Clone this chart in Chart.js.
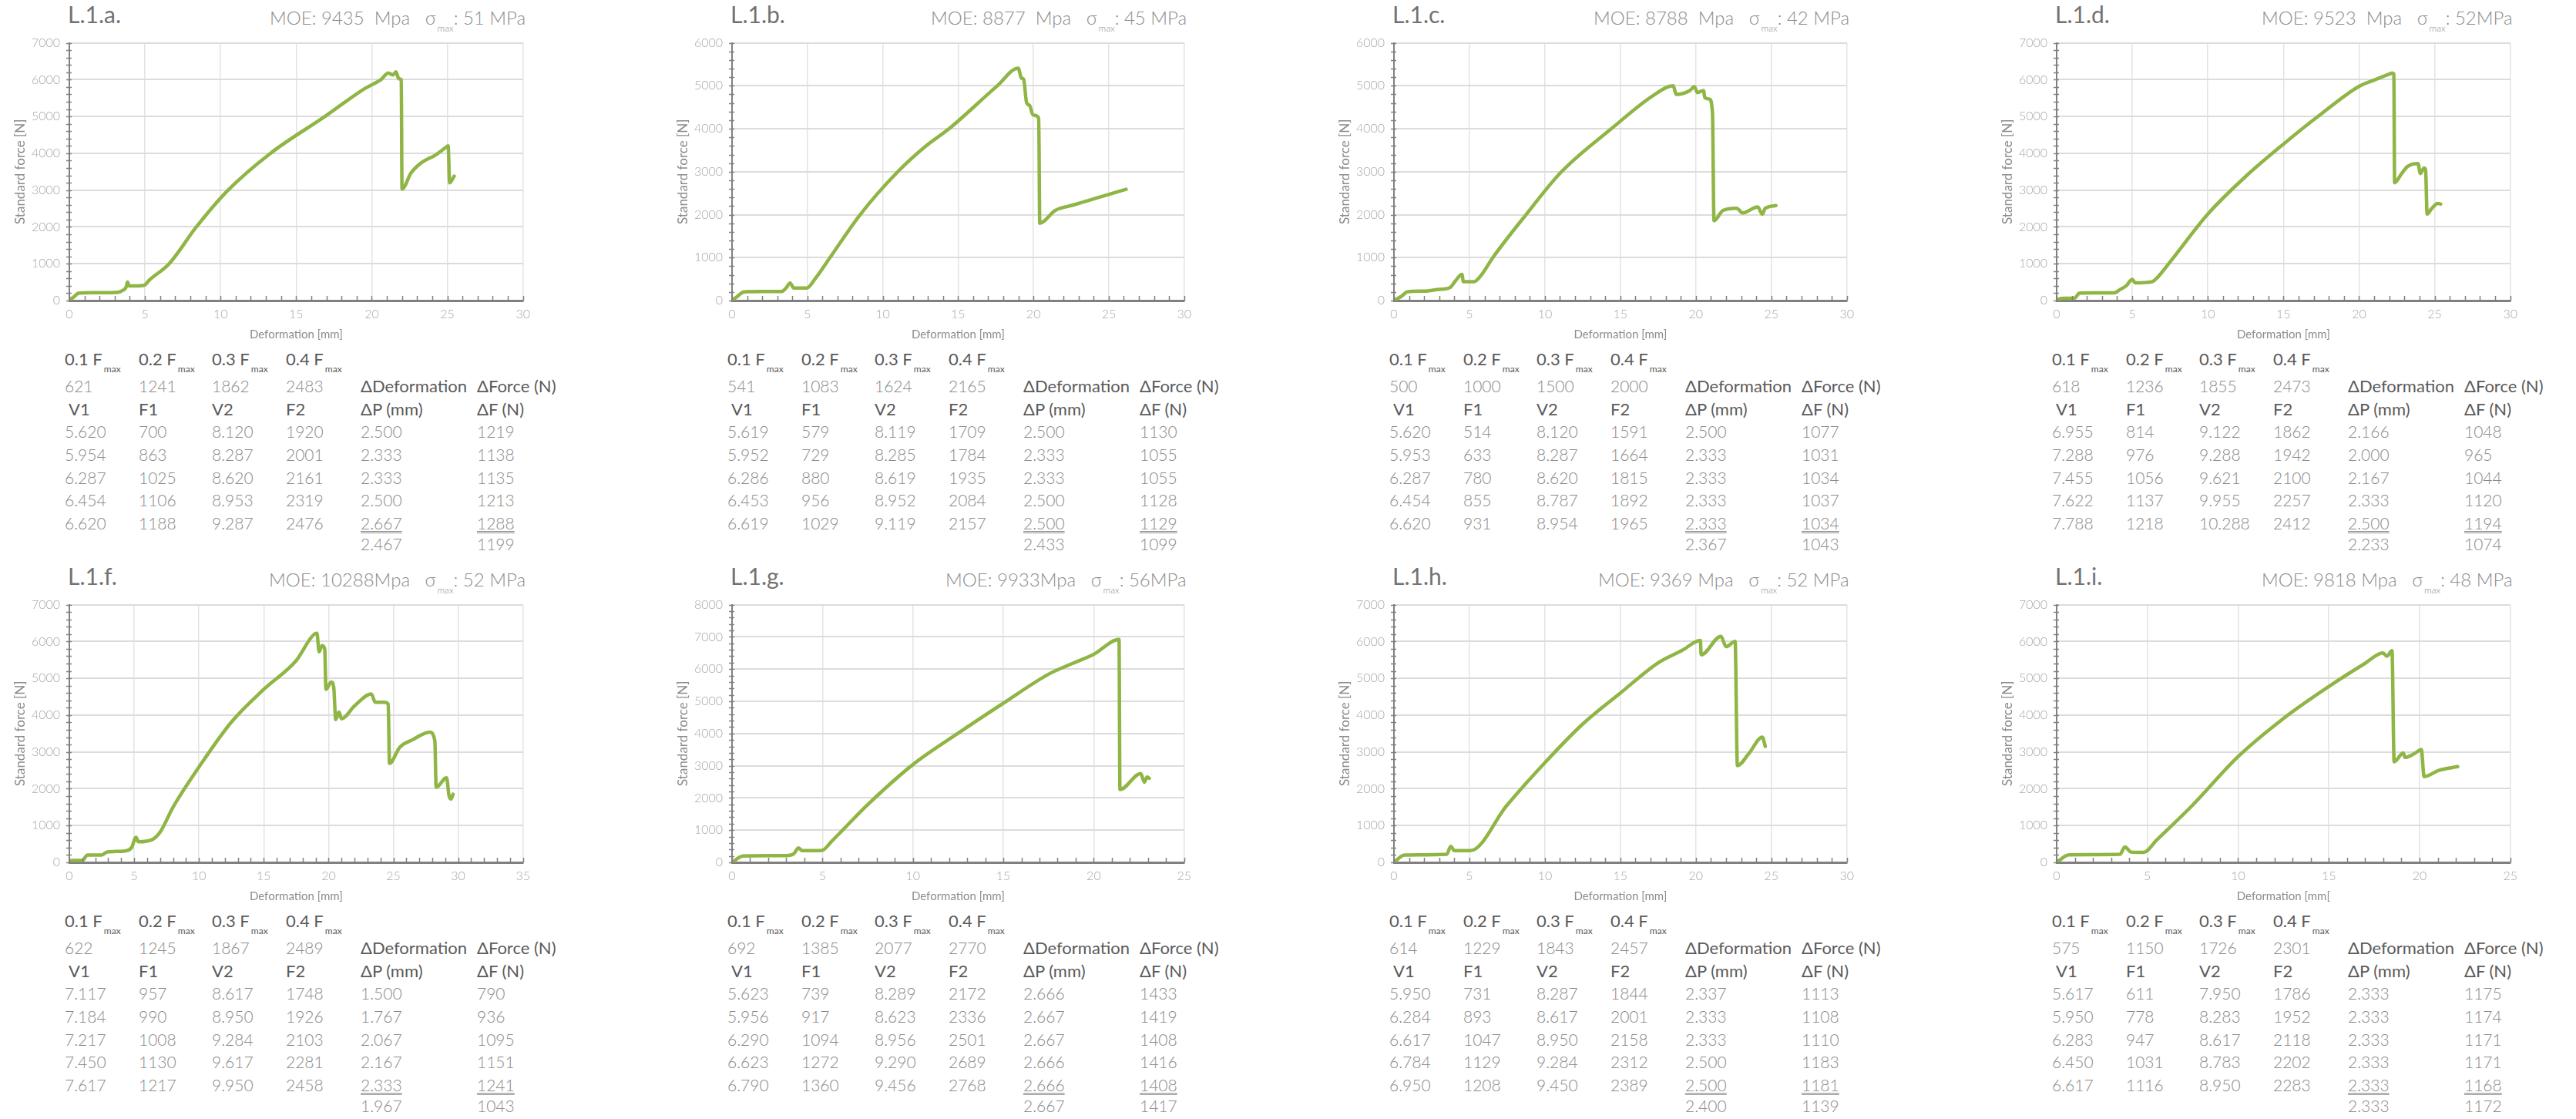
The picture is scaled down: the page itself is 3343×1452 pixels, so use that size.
<!DOCTYPE html>
<html>
<head>
<meta charset="utf-8">
<script src="https://cdn.jsdelivr.net/npm/chart.js@4.4.0/dist/chart.umd.min.js"></script>
<style>
    body { margin: 0; background: #fff; }
    #page { position: relative; width: 3343px; height: 1452px; overflow: hidden; font-family: Lato, 'Open Sans', sans-serif; }
    .txt { position: absolute; white-space: nowrap; line-height: 26px; }
    .title { font-size: 30px; color: #727272; line-height: 36px; }
    .moe { font-size: 24px; color: #8c8c8c; font-weight: 300; line-height: 30px; }
    .head { font-size: 22px; color: #5a5a5a; }
    .val { font-size: 21px; color: #8a8a8a; font-weight: 300; }
    .sub { font-size: 12px; position: relative; top: 9px; margin-left: 2px; }
    .dbl { text-decoration-line: underline; text-decoration-style: double; text-decoration-color: #8a8a8a;
           text-decoration-thickness: 1px; text-underline-offset: 2px; }
    .chartbox { position: absolute; }
</style>
</head>
<body>
<div id="page"></div>
<script>
// ---- curve data: deformation [mm] / standard force [N] ----
const a_def = [0, 0.3, 0.6, 1.5, 2.5, 3.2, 3.5, 3.75, 3.85, 3.95, 4.4, 4.95, 5.3, 6.6, 8.4, 10.5, 13.3, 16.9, 19.5, 20.6, 21.1, 21.4, 21.6, 21.75, 21.85, 21.95, 22.0, 22.6, 23.3, 24.2, 24.9, 25.05, 25.15, 25.45];
const a_force = [0, 100, 200, 215, 215, 225, 270, 360, 500, 400, 400, 415, 560, 1000, 2000, 3000, 4000, 5000, 5750, 6000, 6180, 6130, 6210, 6050, 6020, 6000, 3030, 3470, 3750, 3950, 4160, 4200, 3200, 3380];

const b_def = [0, 0.3, 0.8, 2.0, 3.3, 3.6, 3.85, 4.1, 4.95, 5.5, 6.5, 8.5, 11.0, 12.8, 14.4, 17.6, 18.99, 19.2, 19.35, 19.55, 19.75, 19.97, 20.35, 20.42, 21.45, 22.6, 24.2, 26.15];
const b_force = [0, 80, 204, 210, 210, 300, 410, 290, 290, 500, 1000, 2000, 3000, 3580, 4000, 5000, 5410, 5180, 5150, 4600, 4540, 4320, 4250, 1800, 2100, 2220, 2390, 2590];

const c_def = [0, 0.5, 0.9, 2.0, 3.0, 3.7, 4.1, 4.5, 4.6, 5.3, 5.8, 6.55, 8.75, 11.1, 14.4, 17.2, 18.5, 18.7, 19.6, 19.9, 20.1, 20.5, 20.6, 20.9, 21.1, 21.2, 21.8, 22.7, 23.1, 24.1, 24.4, 24.6, 25.3];
const c_force = [0, 100, 204, 220, 260, 300, 470, 610, 440, 440, 600, 1000, 2000, 3000, 4000, 4780, 5000, 4800, 4890, 4980, 4840, 4890, 4720, 4690, 4370, 1860, 2100, 2150, 2040, 2180, 2010, 2150, 2210];

const d_def = [0, 0.3, 1.2, 1.5, 2.5, 3.8, 4.2, 4.6, 5.0, 5.2, 6.3, 6.6, 7.5, 10, 12.5, 15, 17.5, 20, 21, 22, 22.2, 22.3, 22.35, 22.8, 23.2, 23.9, 24.05, 24.3, 24.4, 24.5, 24.8, 25.2, 25.4];
const d_force = [0, 60, 70, 200, 210, 210, 300, 400, 575, 480, 510, 600, 1050, 2350, 3370, 4250, 5070, 5820, 5990, 6150, 6180, 6150, 3200, 3440, 3640, 3720, 3450, 3600, 3550, 2350, 2500, 2640, 2620];

const f_def = [0, 0.2, 1.0, 1.4, 2.5, 2.9, 4.3, 4.8, 5.14, 5.33, 6.4, 7.0, 8.0, 10, 12.5, 15, 17.5, 18.95, 19.1, 19.27, 19.5, 19.7, 19.8, 20.2, 20.4, 20.55, 20.8, 21.0, 22.0, 23.3, 23.6, 24.3, 24.6, 24.7, 25.5, 26.5, 27.8, 28.2, 28.3, 28.97, 29.1, 29.3, 29.45, 29.6];
const f_force = [0, 50, 50, 200, 200, 280, 310, 400, 680, 560, 620, 820, 1500, 2590, 3810, 4700, 5480, 6210, 6220, 5720, 5890, 5800, 4700, 4900, 4750, 3880, 4080, 3900, 4250, 4575, 4350, 4350, 4300, 2690, 3130, 3335, 3540, 3300, 2040, 2280, 2300, 1800, 1720, 1850];

const g_def = [0, 0.6, 3.0, 3.4, 3.68, 3.87, 4.97, 5.5, 7.5, 10.0, 12.5, 15, 17.5, 18.55, 20, 21.4, 21.45, 22.6, 22.8, 22.95, 23.07];
const g_force = [0, 195, 210, 260, 450, 366, 373, 650, 1790, 3035, 4008, 4940, 5840, 6110, 6460, 6920, 2260, 2760, 2490, 2650, 2610];

const h_def = [0, 0.7, 3.5, 3.76, 4.0, 5.07, 7.47, 9.98, 12.49, 15.0, 17.5, 19.1, 20.3, 20.35, 21.66, 22.0, 22.6, 22.75, 23.5, 24.4, 24.6];
const h_force = [0, 200, 220, 435, 320, 320, 1543, 2700, 3752, 4600, 5420, 5760, 6030, 5640, 6140, 5860, 6000, 2630, 2950, 3400, 3150];

const i_def = [0, 0.68, 3.49, 3.76, 4.1, 4.8, 5.5, 7.47, 9.96, 12.45, 14.95, 16.98, 17.98, 18.2, 18.48, 18.6, 19.1, 19.2, 19.7, 20.1, 20.25, 21.06, 22.1];
const i_force = [0, 204, 218, 421, 280, 270, 600, 1543, 2855, 3890, 4760, 5400, 5690, 5600, 5750, 2730, 2970, 2850, 2950, 3060, 2330, 2500, 2600];

// ---- table data ----
const fmaxLabels = ['0.1 F', '0.2 F', '0.3 F', '0.4 F'];
const colLabels = ['V1', 'F1', 'V2', 'F2'];

const a_fmax = ['621', '1241', '1862', '2483'];
const a_v1 = ['5.620', '5.954', '6.287', '6.454', '6.620'];
const a_f1 = ['700', '863', '1025', '1106', '1188'];
const a_v2 = ['8.120', '8.287', '8.620', '8.953', '9.287'];
const a_f2 = ['1920', '2001', '2161', '2319', '2476'];
const a_dp = ['2.500', '2.333', '2.333', '2.500', '2.667', '2.467'];
const a_df = ['1219', '1138', '1135', '1213', '1288', '1199'];

const b_fmax = ['541', '1083', '1624', '2165'];
const b_v1 = ['5.619', '5.952', '6.286', '6.453', '6.619'];
const b_f1 = ['579', '729', '880', '956', '1029'];
const b_v2 = ['8.119', '8.285', '8.619', '8.952', '9.119'];
const b_f2 = ['1709', '1784', '1935', '2084', '2157'];
const b_dp = ['2.500', '2.333', '2.333', '2.500', '2.500', '2.433'];
const b_df = ['1130', '1055', '1055', '1128', '1129', '1099'];

const c_fmax = ['500', '1000', '1500', '2000'];
const c_v1 = ['5.620', '5.953', '6.287', '6.454', '6.620'];
const c_f1 = ['514', '633', '780', '855', '931'];
const c_v2 = ['8.120', '8.287', '8.620', '8.787', '8.954'];
const c_f2 = ['1591', '1664', '1815', '1892', '1965'];
const c_dp = ['2.500', '2.333', '2.333', '2.333', '2.333', '2.367'];
const c_df = ['1077', '1031', '1034', '1037', '1034', '1043'];

const d_fmax = ['618', '1236', '1855', '2473'];
const d_v1 = ['6.955', '7.288', '7.455', '7.622', '7.788'];
const d_f1 = ['814', '976', '1056', '1137', '1218'];
const d_v2 = ['9.122', '9.288', '9.621', '9.955', '10.288'];
const d_f2 = ['1862', '1942', '2100', '2257', '2412'];
const d_dp = ['2.166', '2.000', '2.167', '2.333', '2.500', '2.233'];
const d_df = ['1048', '965', '1044', '1120', '1194', '1074'];

const f_fmax = ['622', '1245', '1867', '2489'];
const f_v1 = ['7.117', '7.184', '7.217', '7.450', '7.617'];
const f_f1 = ['957', '990', '1008', '1130', '1217'];
const f_v2 = ['8.617', '8.950', '9.284', '9.617', '9.950'];
const f_f2 = ['1748', '1926', '2103', '2281', '2458'];
const f_dp = ['1.500', '1.767', '2.067', '2.167', '2.333', '1.967'];
const f_df = ['790', '936', '1095', '1151', '1241', '1043'];

const g_fmax = ['692', '1385', '2077', '2770'];
const g_v1 = ['5.623', '5.956', '6.290', '6.623', '6.790'];
const g_f1 = ['739', '917', '1094', '1272', '1360'];
const g_v2 = ['8.289', '8.623', '8.956', '9.290', '9.456'];
const g_f2 = ['2172', '2336', '2501', '2689', '2768'];
const g_dp = ['2.666', '2.667', '2.667', '2.666', '2.666', '2.667'];
const g_df = ['1433', '1419', '1408', '1416', '1408', '1417'];

const h_fmax = ['614', '1229', '1843', '2457'];
const h_v1 = ['5.950', '6.284', '6.617', '6.784', '6.950'];
const h_f1 = ['731', '893', '1047', '1129', '1208'];
const h_v2 = ['8.287', '8.617', '8.950', '9.284', '9.450'];
const h_f2 = ['1844', '2001', '2158', '2312', '2389'];
const h_dp = ['2.337', '2.333', '2.333', '2.500', '2.500', '2.400'];
const h_df = ['1113', '1108', '1110', '1183', '1181', '1139'];

const i_fmax = ['575', '1150', '1726', '2301'];
const i_v1 = ['5.617', '5.950', '6.283', '6.450', '6.617'];
const i_f1 = ['611', '778', '947', '1031', '1116'];
const i_v2 = ['7.950', '8.283', '8.617', '8.783', '8.950'];
const i_f2 = ['1786', '1952', '2118', '2202', '2283'];
const i_dp = ['2.333', '2.333', '2.333', '2.333', '2.333', '2.333'];
const i_df = ['1175', '1174', '1171', '1171', '1168', '1172'];

// ---- panel headers / axis limits ----
const panelTitles = ['L.1.a.', 'L.1.b.', 'L.1.c.', 'L.1.d.', 'L.1.f.', 'L.1.g.', 'L.1.h.', 'L.1.i.'];
const moeTexts = ['MOE: 9435&nbsp; Mpa', 'MOE: 8877&nbsp; Mpa', 'MOE: 8788&nbsp; Mpa', 'MOE: 9523&nbsp; Mpa', 'MOE: 10288Mpa', 'MOE: 9933Mpa', 'MOE: 9369 Mpa', 'MOE: 9818 Mpa'];
const sigmaTexts = [': 51 MPa', ': 45 MPa', ': 42 MPa', ': 52MPa', ': 52 MPa', ': 56MPa', ': 52 MPa', ': 48 MPa'];
const xMaxes = [30, 30, 30, 30, 35, 25, 30, 25];
const yMaxes = [7000, 6000, 6000, 7000, 7000, 8000, 7000, 7000];
const xTitles = ['Deformation [mm]', 'Deformation [mm]', 'Deformation [mm]', 'Deformation [mm]',
                 'Deformation [mm]', 'Deformation [mm]', 'Deformation [mm]', 'Deformation [mm['];

const curves = [[a_def, a_force], [b_def, b_force], [c_def, c_force], [d_def, d_force],
                [f_def, f_force], [g_def, g_force], [h_def, h_force], [i_def, i_force]];
const tables = [
    [a_fmax, a_v1, a_f1, a_v2, a_f2, a_dp, a_df],
    [b_fmax, b_v1, b_f1, b_v2, b_f2, b_dp, b_df],
    [c_fmax, c_v1, c_f1, c_v2, c_f2, c_dp, c_df],
    [d_fmax, d_v1, d_f1, d_v2, d_f2, d_dp, d_df],
    [f_fmax, f_v1, f_f1, f_v2, f_f2, f_dp, f_df],
    [g_fmax, g_v1, g_f1, g_v2, g_f2, g_dp, g_df],
    [h_fmax, h_v1, h_f1, h_v2, h_f2, h_dp, h_df],
    [i_fmax, i_v1, i_f1, i_v2, i_f2, i_dp, i_df]
];

// layout
const axisLeft = [90, 950, 1809, 2669];
const axisRight = [682, 1540, 2400, 3261];
const rowShift = 729;
const plotTop = 46, plotBottom = 390;
const tableCols = [-6, 90, 185, 281, 378, 529];
const tableRows = [468, 501, 531, 560, 590, 620, 649, 679, 706];

const page = document.getElementById('page');

function addText(x, yc, html, cls, alignRight) {
    const el = document.createElement('div');
    el.className = 'txt ' + cls;
    el.innerHTML = html;
    page.appendChild(el);
    const h = el.offsetHeight;
    el.style.top = (yc - h / 2) + 'px';
    if (alignRight) {
        el.style.left = (x - el.offsetWidth) + 'px';
    } else {
        el.style.left = x + 'px';
    }
    return el;
}

// small minor tick marks along both axes
const minorTicks = {
    id: 'minorTicks',
    afterDraw(chart) {
        const { ctx, chartArea: area } = chart;
        const xs = chart.scales.x, ys = chart.scales.y;
        ctx.save();
        ctx.strokeStyle = '#808080';
        ctx.lineWidth = 1.5;
        ctx.beginPath();
        for (let v = 0; v <= xs.max; v += 1) {
            const px = Math.round(xs.getPixelForValue(v)) + 0.5;
            ctx.moveTo(px, area.bottom);
            ctx.lineTo(px, area.bottom - 6);
        }
        for (let v = 0; v <= ys.max; v += 200) {
            const py = Math.round(ys.getPixelForValue(v)) + 0.5;
            ctx.moveTo(area.left - 4, py);
            ctx.lineTo(area.left + 3, py);
        }
        ctx.stroke();
        ctx.restore();
    }
};

function buildPanel(k) {
    const col = k % 4, row = Math.floor(k / 4);
    const dy = row * rowShift;
    const ax = axisLeft[col], rx = axisRight[col];
    const top = plotTop + dy, bottom = plotBottom + dy;

    // headings
    addText(ax - 2, 18 + dy, panelTitles[k], 'title');
    addText(rx, 25 + dy, moeTexts[k] + '&nbsp;&nbsp; σ<span class="sub">max</span>' + sigmaTexts[k], 'moe', true);

    // chart
    const padL = 2, padT = 12, padR = 14, yW = 80, xH = 58;
    const w = (rx - ax) + padL + yW + padR;
    const h = (bottom - top) + padT + xH;
    const box = document.createElement('div');
    box.className = 'chartbox';
    box.style.left = (ax - yW - padL) + 'px';
    box.style.top = (top - padT) + 'px';
    const canvas = document.createElement('canvas');
    canvas.width = w;
    canvas.height = h;
    canvas.style.width = w + 'px';
    canvas.style.height = h + 'px';
    box.appendChild(canvas);
    page.appendChild(box);

    const [defs, forces] = curves[k];
    const points = defs.map((x, idx) => ({ x: x, y: forces[idx] }));

    new Chart(canvas, {
        type: 'line',
        data: {
            datasets: [{
                data: points,
                borderColor: '#8fb545',
                borderWidth: 4.5,
                pointRadius: 0,
                cubicInterpolationMode: 'monotone',
                borderJoinStyle: 'round',
                borderCapStyle: 'round',
                fill: false
            }]
        },
        options: {
            responsive: false,
            animation: false,
            devicePixelRatio: 1,
            layout: { padding: { left: padL, top: padT, right: padR, bottom: 0 } },
            plugins: { legend: { display: false }, tooltip: { enabled: false } },
            scales: {
                x: {
                    type: 'linear',
                    min: 0,
                    max: xMaxes[k],
                    ticks: { stepSize: 5, color: '#a8a8a8', font: { family: 'Lato', size: 16, weight: 300 }, padding: 8, maxRotation: 0, autoSkip: false,
                             callback: v => String(v) },
                    grid: { color: '#e3e3e3', lineWidth: 1.5, drawTicks: false },
                    border: { display: true, color: '#808080', width: 3 },
                    title: { display: true, text: xTitles[k], color: '#8c8c8c', font: { family: 'Lato', size: 15 }, padding: { top: 0, bottom: 5 } },
                    afterFit: function (scale) { scale.height = xH; }
                },
                y: {
                    min: 0,
                    max: yMaxes[k],
                    ticks: { stepSize: 1000, color: '#a8a8a8', font: { family: 'Lato', size: 16, weight: 300 }, padding: 12,
                             callback: v => String(v) },
                    grid: { color: '#dcdcdc', lineWidth: 2, drawTicks: false },
                    border: { display: true, color: '#808080', width: 2 },
                    title: { display: true, text: 'Standard force [N]', color: '#8c8c8c', font: { family: 'Lato', size: 17 }, padding: { top: 6, bottom: 0 } },
                    afterFit: function (scale) { scale.width = yW; }
                }
            }
        },
        plugins: [minorTicks]
    });

    // table under the chart
    const t = tables[k];
    const ty = tableRows.map(v => v + dy);
    const cx = tableCols.map(v => ax + v);
    for (let c = 0; c < 4; c++) {
        addText(cx[c], ty[0], fmaxLabels[c] + '<span class="sub">max</span>', 'head');
        addText(cx[c], ty[1], t[0][c], 'val');
        addText(cx[c] + (c === 0 ? 5 : 0), ty[2], colLabels[c], 'head');
        for (let r = 0; r < 5; r++) {
            addText(cx[c], ty[3 + r], t[1 + c][r], 'val');
        }
    }
    addText(cx[4], ty[1], 'ΔDeformation', 'head');
    addText(cx[5], ty[1], 'ΔForce (N)', 'head');
    addText(cx[4], ty[2], 'ΔP (mm)', 'head');
    addText(cx[5], ty[2], 'ΔF (N)', 'head');
    for (let r = 0; r < 6; r++) {
        const cls = r === 4 ? 'val dbl' : 'val';
        addText(cx[4], ty[3 + r], t[5][r], cls);
        addText(cx[5], ty[3 + r], t[6][r], cls);
    }
}

for (let k = 0; k < 8; k++) {
    buildPanel(k);
}
</script>
</body>
</html>
